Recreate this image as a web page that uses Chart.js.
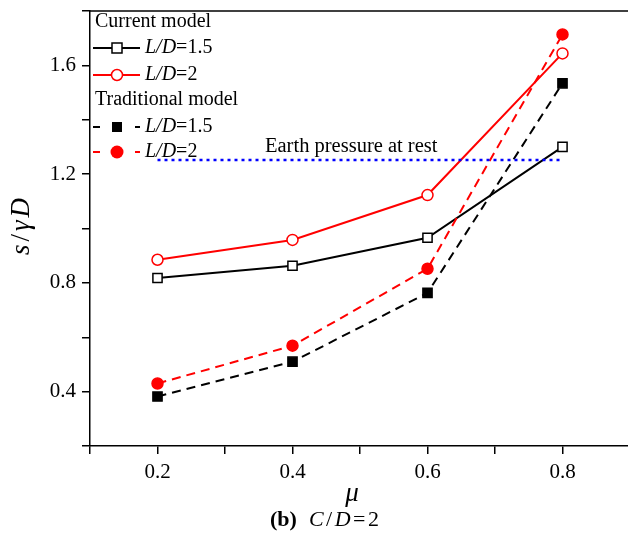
<!DOCTYPE html>
<html>
<head>
<meta charset="utf-8">
<script src="https://cdn.jsdelivr.net/npm/chart.js@4"></script>
<style>
  html, body { margin: 0; padding: 0; background: #fff; overflow: hidden; }
  #wrap { width: 628px; height: 542px; overflow: hidden; }
</style>
</head>
<body>
<div id="wrap"><canvas id="chart" width="638" height="542"></canvas></div>
<script>
// friction coefficient
const mu = [0.2, 0.4, 0.6, 0.8];
// s / (gamma D)
const currentLD15 = [0.818, 0.863, 0.966, 1.300];
const currentLD2 = [0.885, 0.958, 1.123, 1.644];
const tradLD15 = [0.382, 0.510, 0.763, 1.534];
const tradLD2 = [0.430, 0.569, 0.852, 1.714];
// earth pressure at rest reference line
const restMu = [0.2, 0.8];
const restValue = [1.252, 1.252];

const SERIF = '"Liberation Serif", "Times New Roman", serif';
const pts = (ys, xs) => ys.map((y, i) => ({ x: (xs || mu)[i], y }));

// draws a run of text pieces with mixed styles, left aligned
function drawRuns(ctx, x, y, runs, size) {
    ctx.textBaseline = 'middle';
    ctx.textAlign = 'left';
    for (const [txt, style] of runs) {
        ctx.font = (style || '') + ' ' + size + 'px ' + SERIF;
        ctx.fillText(txt, x, y);
        x += ctx.measureText(txt).width;
    }
    return x;
}

function runsWidth(ctx, runs, size) {
    let w = 0;
    for (const [txt, style] of runs) {
        ctx.font = (style || '') + ' ' + size + 'px ' + SERIF;
        w += ctx.measureText(txt).width;
    }
    return w;
}

function legendMarker(ctx, x, y, kind, color) {
    ctx.save();
    ctx.lineWidth = 1.5;
    ctx.strokeStyle = color;
    ctx.setLineDash([]);
    if (kind === 'openSquare') {
        ctx.fillStyle = '#fff';
        ctx.fillRect(x - 5, y - 5, 10, 10);
        ctx.strokeRect(x - 5, y - 5, 10, 10);
    } else if (kind === 'openCircle') {
        ctx.fillStyle = '#fff';
        ctx.beginPath(); ctx.arc(x, y, 5.5, 0, Math.PI * 2); ctx.fill(); ctx.stroke();
    } else if (kind === 'square') {
        ctx.fillStyle = color;
        ctx.fillRect(x - 5, y - 5, 10, 10);
    } else {
        ctx.fillStyle = color;
        ctx.beginPath(); ctx.arc(x, y, 6.5, 0, Math.PI * 2); ctx.fill();
    }
    ctx.restore();
}

const decorations = {
    id: 'decorations',
    afterDraw(chart) {
        const ctx = chart.ctx;
        const a = chart.chartArea;
        ctx.save();
        // top frame line
        ctx.strokeStyle = '#000';
        ctx.lineWidth = 1.5;
        ctx.beginPath(); ctx.moveTo(a.left, a.top); ctx.lineTo(a.right + 2, a.top); ctx.stroke();

        ctx.fillStyle = '#000';
        // legend
        const size = 20;
        drawRuns(ctx, 95, 22, [['Current model']], size);
        drawRuns(ctx, 95, 100, [['Traditional model']], size);
        const rows = [
            { y: 48, color: '#000', dashed: false, kind: 'openSquare', label: '1.5' },
            { y: 75, color: '#ff0000', dashed: false, kind: 'openCircle', label: '2' },
            { y: 127, color: '#000', dashed: true, kind: 'square', label: '1.5' },
            { y: 152, color: '#ff0000', dashed: true, kind: 'circle', label: '2' }
        ];
        for (const r of rows) {
            ctx.save();
            ctx.strokeStyle = r.color;
            ctx.lineWidth = 2;
            ctx.beginPath();
            if (r.dashed) {
                ctx.moveTo(93, r.y); ctx.lineTo(100, r.y);
                ctx.moveTo(135, r.y); ctx.lineTo(140, r.y);
            } else {
                ctx.moveTo(93, r.y); ctx.lineTo(140, r.y);
            }
            ctx.stroke();
            ctx.restore();
            legendMarker(ctx, 117, r.y, r.kind, r.color);
            ctx.fillStyle = '#000';
            drawRuns(ctx, 145, r.y, [['L/D', 'italic'], ['=' + r.label]], size);
        }

        // reference line label
        drawRuns(ctx, 265, 147, [['Earth pressure at rest']], 20.5);

        // x axis title
        ctx.font = 'italic 27px ' + SERIF;
        ctx.textAlign = 'center';
        ctx.textBaseline = 'middle';
        ctx.fillText('μ', 352, 494);

        // caption
        let cx = drawRuns(ctx, 270, 520, [['(b)', 'bold']], 22);
        ctx.letterSpacing = '2.5px';
        drawRuns(ctx, cx + 12, 520, [['C', 'italic'], ['/'], ['D', 'italic'], ['=2']], 22);
        ctx.letterSpacing = '0px';

        // y axis title
        ctx.save();
        ctx.translate(22, 225);
        ctx.rotate(-Math.PI / 2);
        ctx.letterSpacing = '3px';
        const yt = [['s', 'italic'], ['/'], ['γ', 'italic'], ['D', 'italic']];
        const yw = runsWidth(ctx, yt, 27);
        drawRuns(ctx, -yw / 2, 0, yt, 27);
        ctx.restore();

        ctx.restore();
    }
};

const lineSet = (label, data, color, style, open, dashed) => ({
    label,
    data: pts(data),
    borderColor: color,
    borderWidth: 2,
    borderDash: dashed ? [9, 6] : [],
    pointStyle: style,
    pointRadius: style === 'rect' ? 6.5 : 5.5,
    pointBorderWidth: 1.5,
    pointBorderColor: color,
    pointBackgroundColor: open ? '#fff' : color,
    tension: 0
});

new Chart(document.getElementById('chart'), {
    type: 'line',
    data: {
        datasets: [
            {
                label: 'Earth pressure at rest',
                data: pts(restValue, restMu),
                borderColor: '#0000ff',
                borderWidth: 2.5,
                borderDash: [3, 4],
                pointRadius: 0
            },
            lineSet('Traditional L/D=1.5', tradLD15, '#000', 'rect', false, true),
            lineSet('Traditional L/D=2', tradLD2, '#ff0000', 'circle', false, true),
            lineSet('Current L/D=1.5', currentLD15, '#000', 'rect', true, false),
            lineSet('Current L/D=2', currentLD2, '#ff0000', 'circle', true, false)
        ]
    },
    options: {
        responsive: false,
        animation: false,
        layout: { padding: { top: 11, right: 1, left: 0, bottom: 0 } },
        plugins: { legend: { display: false }, tooltip: { enabled: false } },
        scales: {
            x: {
                type: 'linear',
                min: 0.1,
                max: 0.9,
                border: { display: true, color: '#000', width: 1.5 },
                grid: { drawOnChartArea: false, color: '#000', lineWidth: 1.5, tickLength: 8 },
                ticks: {
                    stepSize: 0.1,
                    color: '#000',
                    padding: 6,
                    maxRotation: 0,
                    autoSkip: false,
                    font: { family: SERIF, size: 21 },
                    callback: v => (Math.round(v * 10) % 2 === 0 ? v.toFixed(1) : '')
                },
                afterFit: s => { s.height = 96; s.paddingLeft = 0; s.paddingRight = 0; }
            },
            y: {
                min: 0.2,
                max: 1.8,
                border: { display: true, color: '#000', width: 1.5 },
                grid: { drawOnChartArea: false, color: '#000', lineWidth: 1.5, tickLength: 8 },
                ticks: {
                    stepSize: 0.2,
                    color: '#000',
                    padding: 6,
                    autoSkip: false,
                    font: { family: SERIF, size: 21 },
                    callback: v => (Math.round(v * 10) % 4 === 0 ? v.toFixed(1) : '')
                },
                afterFit: s => { s.width = 90; s.paddingTop = 0; s.paddingBottom = 0; }
            }
        }
    },
    plugins: [decorations]
});
</script>
</body>
</html>
